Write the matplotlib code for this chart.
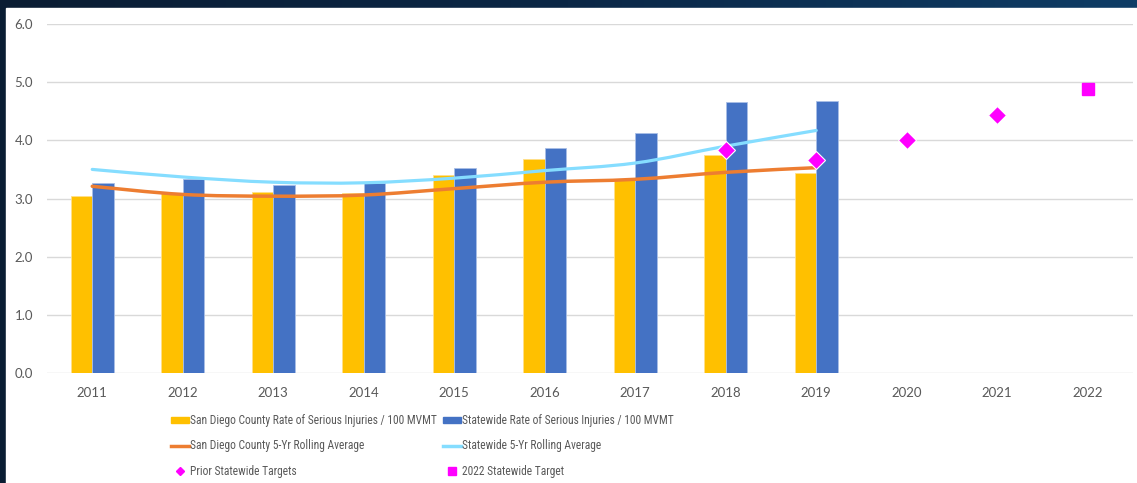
import matplotlib.pyplot as plt
import matplotlib.font_manager as fm
import numpy as np
from matplotlib.path import Path
from matplotlib.patches import PathPatch, Rectangle
from matplotlib.lines import Line2D
from matplotlib.colors import LinearSegmentedColormap

# data
years = ["2011", "2012", "2013", "2014", "2015", "2016", "2017", "2018", "2019", "2020", "2021", "2022"]
sd_rate = [3.05, 3.10, 3.12, 3.10, 3.40, 3.68, 3.32, 3.74, 3.44]
state_rate = [3.27, 3.33, 3.24, 3.26, 3.52, 3.87, 4.13, 4.66, 4.68]
sd_avg = [3.21, 3.07, 3.04, 3.06, 3.17, 3.28, 3.33, 3.45, 3.53]
state_avg = [3.50, 3.37, 3.28, 3.27, 3.35, 3.48, 3.61, 3.90, 4.17]
prior_years = ["2018", "2019", "2020", "2021"]
prior_targets = [3.84, 3.66, 4.00, 4.43]
target_year = "2022"
target_2022 = 4.89

yellow = "#FFC000"
blue = "#4472C4"
orange = "#ED7D31"
light_blue = "#85DDFF"
magenta = "#FF00FF"
grey_text = "#595959"

# legend font: a narrow sans if one is installed
installed = {f.name for f in fm.fontManager.ttflist}
legend_family = ["Liberation Sans", "DejaVu Sans"]
for cand in ["Liberation Sans Narrow", "Roboto Condensed", "Open Sans Condensed"]:
    if cand in installed:
        legend_family = [cand, "DejaVu Sans"]
        break


def smooth_line(ax, x, y, color, lw):
    # excel-style smoothed line (catmull-rom as cubic bezier)
    pts = np.column_stack([np.asarray(x, float), np.asarray(y, float)])
    verts = [pts[0]]
    codes = [Path.MOVETO]
    for i in range(len(pts) - 1):
        p0 = pts[i - 1] if i > 0 else pts[i]
        p1 = pts[i]
        p2 = pts[i + 1]
        p3 = pts[i + 2] if i + 2 < len(pts) else pts[i + 1]
        verts += [p1 + (p2 - p0) / 6, p2 - (p3 - p1) / 6, p2]
        codes += [Path.CURVE4] * 3
    ax.add_patch(PathPatch(Path(verts, codes), facecolor="none", edgecolor=color,
                           lw=lw, capstyle="round", zorder=3))


fig = plt.figure(figsize=(11.37, 4.83), dpi=100)

# dark slide background with white chart area
bg = fig.add_axes([0, 0, 1, 1], zorder=-10)
grad = np.linspace(0, 1, 256).reshape(1, -1)
bg.imshow(grad, aspect="auto", extent=[0, 1, 0, 1],
          cmap=LinearSegmentedColormap.from_list("n", ["#0a1d33", "#0b2746", "#0f3d66"]))
bg.add_patch(Rectangle((6 / 1137, 0), 1, (483 - 8) / 483, color="white", zorder=2))
bg.set_xlim(0, 1)
bg.set_ylim(0, 1)
bg.axis("off")

ax = fig.add_axes([47 / 1137, 110 / 483, 1086 / 1137, 349 / 483])
ax.set_facecolor("none")

x_all = np.arange(len(years))
x_bar = np.arange(len(sd_rate))
w = 0.24
ax.bar(x_bar - w / 2, sd_rate, w, color=yellow, edgecolor="#FFE08A", lw=0.6, zorder=2)
ax.bar(x_bar + w / 2, state_rate, w, color=blue, edgecolor="#A9BFE6", lw=0.6, zorder=2)

smooth_line(ax, x_bar, sd_avg, orange, 2.5)
smooth_line(ax, x_bar, state_avg, light_blue, 2.3)

px = [years.index(yr) for yr in prior_years]
ax.plot(px, prior_targets, "D", color=magenta, ms=9, mec="white", mew=0.8, ls="none", zorder=4)
ax.plot([years.index(target_year)], [target_2022], "s", color=magenta, ms=8.5, ls="none", zorder=4)

ax.set_xlim(-0.5, len(years) - 0.5)
ax.set_ylim(0, 6)
ax.set_yticks(np.arange(0, 6.1, 1.0))
ax.set_yticklabels([f"{v:.1f}" for v in np.arange(0, 6.1, 1.0)])
ax.set_xticks(x_all)
ax.set_xticklabels(years)
ax.tick_params(axis="y", length=0, pad=10, labelsize=9.5, labelcolor=grey_text)
ax.tick_params(axis="x", length=0, pad=10, labelsize=9.5, labelcolor=grey_text)
for lab in ax.get_xticklabels() + ax.get_yticklabels():
    lab.set_family(["Lato", "DejaVu Sans"])
ax.grid(axis="y", color="#D9D9D9", lw=1.0, zorder=0)
ax.set_axisbelow(True)
for s in ax.spines.values():
    s.set_visible(False)

col1 = [
    (Rectangle((0, 0), 1, 1, color=yellow), "San Diego County Rate of Serious Injuries / 100 MVMT"),
    (Line2D([], [], color=orange, lw=2.5), "San Diego County 5-Yr Rolling Average"),
    (Line2D([], [], color=magenta, marker="D", ms=4.5, ls="none"), "Prior Statewide Targets"),
]
col2 = [
    (Rectangle((0, 0), 1, 1, color=blue), "Statewide Rate of Serious Injuries / 100 MVMT"),
    (Line2D([], [], color=light_blue, lw=2.5), "Statewide 5-Yr Rolling Average"),
    (Line2D([], [], color=magenta, marker="s", ms=6, ls="none"), "2022 Statewide Target"),
]

leg_size = 8.3
fs_px = leg_size * 100 / 72
renderer = fig.canvas.get_renderer()
probe = fig.text(0, 0, col1[0][1], size=leg_size, family=legend_family)
col1_width = probe.get_window_extent(renderer).width
probe.remove()

x1 = 171
x2 = max(430, x1 + 19 + col1_width + 6)
for entries, x0 in [(col1, x1), (col2, x2)]:
    leg = fig.legend([e[0] for e in entries], [e[1] for e in entries], loc="upper left",
                     bbox_to_anchor=(x0 / 1137, 1 - (421 - 0.62 * fs_px) / 483), frameon=False,
                     handlelength=18 / fs_px, handleheight=0.45,
                     handletextpad=0.1, borderpad=0, borderaxespad=0,
                     labelspacing=(24 - fs_px) / fs_px,
                     prop={"family": legend_family, "size": leg_size})
    for t in leg.get_texts():
        t.set_color(grey_text)

fig.savefig("out.png", dpi=100)
